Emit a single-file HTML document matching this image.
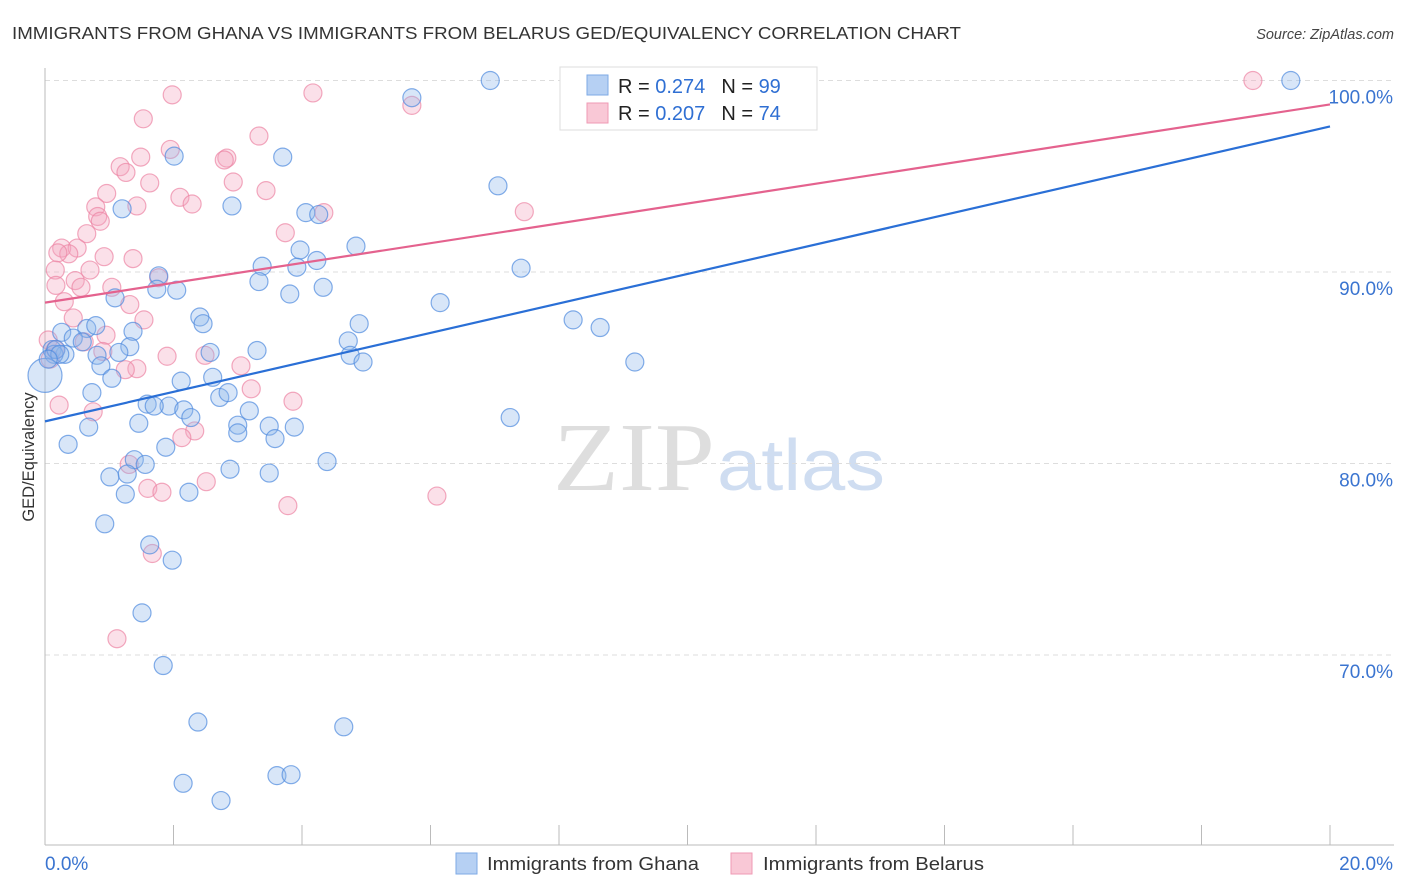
<!DOCTYPE html>
<html><head><meta charset="utf-8"><style>
body{margin:0;background:#fff;font-family:"Liberation Sans",sans-serif;}
svg{display:block}
</style></head><body>
<svg id="chart" width="1406" height="892" viewBox="0 0 1406 892">
<text x="12" y="39" font-size="17.5" fill="#333" textLength="949" lengthAdjust="spacingAndGlyphs">IMMIGRANTS FROM GHANA VS IMMIGRANTS FROM BELARUS GED/EQUIVALENCY CORRELATION CHART</text>
<text x="1394" y="39" font-size="14.5" fill="#444" font-style="italic" text-anchor="end">Source: ZipAtlas.com</text>
<g>
<text x="553" y="490" font-family="Liberation Serif,serif" font-size="98" fill="#d4d4d4" opacity="0.75" textLength="162" lengthAdjust="spacingAndGlyphs">ZIP</text>
<text x="717" y="490" font-size="72" fill="#bcd0ec" opacity="0.7" textLength="168" lengthAdjust="spacingAndGlyphs">atlas</text>
</g>
<g id="grid"></g>
<g id="axes"></g>
<g id="marks"></g>
<text transform="translate(34,457) rotate(-90)" font-size="16.5" fill="#333" text-anchor="middle">GED/Equivalency</text>
<g>
<rect x="560" y="67" width="257" height="63" fill="#fff" stroke="#ddd"/>
<rect x="587" y="75" width="21" height="20" fill="#b6d0f3" stroke="#7eaae6"/>
<rect x="587" y="103" width="21" height="20" fill="#f9c8d6" stroke="#ef9ab4"/>
<text x="618" y="93" font-size="20" fill="#222">R = <tspan fill="#2f6fd3">0.274</tspan><tspan dx="16">N = </tspan><tspan fill="#2f6fd3">99</tspan></text>
<text x="618" y="120" font-size="20" fill="#222">R = <tspan fill="#2f6fd3">0.207</tspan><tspan dx="16">N = </tspan><tspan fill="#2f6fd3">74</tspan></text>
</g>
<g>
<rect x="456" y="853" width="21" height="21" fill="#b6d0f3" stroke="#7eaae6"/>
<text x="487" y="870" font-size="18" fill="#333" textLength="212" lengthAdjust="spacingAndGlyphs">Immigrants from Ghana</text>
<rect x="731" y="853" width="21" height="21" fill="#f9c8d6" stroke="#ef9ab4"/>
<text x="763" y="870" font-size="18" fill="#333" textLength="221" lengthAdjust="spacingAndGlyphs">Immigrants from Belarus</text>
</g>
</svg>
<script>
const ghanaX=[6.93,19.39,5.71,2.01,3.70,7.05,1.20,2.91,4.06,4.26,4.84,3.97,3.38,4.23,3.92,7.41,1.77,3.33,1.74,2.05,3.81,4.33,1.09,6.15,2.41,2.46,8.22,8.64,4.89,1.37,0.65,0.26,0.79,4.72,0.44,0.58,0.11,1.32,2.57,3.30,0.31,1.15,0.81,4.75,4.95,9.18,0.87,0.14,2.61,1.04,2.12,2.72,0.73,2.85,1.59,1.93,2.16,1.70,3.18,2.27,1.46,0.68,3.00,3.49,3.00,3.88,3.58,7.24,1.88,0.36,4.39,1.39,1.56,2.88,1.01,1.28,3.49,1.25,2.24,0.93,1.63,1.98,1.51,1.84,2.38,4.65,2.15,3.61,3.83,2.74,0.0,0.17,0.23,0.05];
const ghanaY=[100,100,99.1,96.05,96.0,94.5,93.3,93.45,93.1,93.0,91.35,91.15,90.3,90.6,90.25,90.2,89.8,89.5,89.1,89.05,88.85,89.2,88.65,88.4,87.65,87.3,87.5,87.1,87.3,86.9,87.05,86.85,87.2,86.4,86.55,86.35,85.95,86.1,85.8,85.9,85.7,85.8,85.65,85.65,85.3,85.3,85.1,85.7,84.5,84.45,84.3,83.45,83.7,83.7,83.1,83.0,82.8,83.0,82.75,82.4,82.1,81.9,82.0,81.95,81.6,81.9,81.3,82.4,80.85,81.0,80.1,80.2,79.95,79.7,79.3,79.45,79.5,78.4,78.5,76.85,75.75,74.95,72.2,69.45,66.5,66.25,63.3,63.7,63.75,62.4,84.6,85.95,85.7,85.45];
const belarusX=[18.8,1.98,4.17,1.53,5.71,3.33,1.95,1.49,2.83,2.79,1.17,1.26,1.63,2.93,0.96,3.44,2.10,2.29,1.43,0.79,0.82,0.86,4.34,7.46,0.65,3.74,0.26,0.50,0.37,0.20,0.92,1.37,0.16,0.70,1.77,0.47,0.17,0.56,1.04,0.30,1.32,0.44,1.54,0.95,0.61,0.05,0.90,0.16,1.90,2.49,1.43,3.05,1.25,3.21,0.22,0.75,3.86,2.33,2.13,1.31,2.51,1.60,1.82,3.78,6.10,1.67,1.12,0.08];
const belarusY=[100,99.25,99.35,98.0,98.7,97.1,96.4,96.0,95.95,95.85,95.5,95.2,94.65,94.7,94.1,94.25,93.9,93.55,93.45,93.4,92.9,92.65,93.1,93.15,92.0,92.05,91.25,91.25,90.95,91.0,90.8,90.7,90.1,90.1,89.7,89.55,89.3,89.2,89.2,88.45,88.3,87.6,87.5,86.7,86.35,86.45,85.85,85.95,85.6,85.65,84.95,85.1,84.9,83.9,83.05,82.7,83.25,81.7,81.35,79.95,79.05,78.7,78.5,77.8,78.3,75.3,70.85,85.45];
const ghanaTrend=[82.2,97.6];
const belarusTrend=[88.4,98.75];
const yTicks=[100,90,80,70];
const yTickLabels=["100.0%","90.0%","80.0%","70.0%"];
const xTicks=[0,2,4,6,8,10,12,14,16,18,20];

const NS="http://www.w3.org/2000/svg";
const X0=45,X1=1330,YTOP=80.5,PXPER=19.15;
function sx(v){return X0+(v/20)*(X1-X0);}
function sy(v){return YTOP+(100-v)*PXPER;}
function mk(tag,attrs,parent){const e=document.createElementNS(NS,tag);for(const k in attrs)e.setAttribute(k,attrs[k]);parent.appendChild(e);return e;}
const grid=document.getElementById('grid'),axes=document.getElementById('axes'),marks=document.getElementById('marks');
yTicks.forEach((t,i)=>{
 const l=mk('line',{x1:X0,x2:1394,y1:sy(t),y2:sy(t),stroke:'#ddd','stroke-dasharray':'5,4'},grid);
 
 
 const tx=mk('text',{x:1393,y:sy(t)+23,'font-size':19,fill:'#3a74d0','text-anchor':'end'},axes);
 tx.textContent=yTickLabels[i];
 
 
});
const ax=mk('line',{x1:X0,x2:1394,y1:845,y2:845,stroke:'#bbb'},axes);


const ay=mk('line',{x1:X0,x2:X0,y1:68,y2:845,stroke:'#bbb'},axes);


xTicks.forEach(t=>{
 const l=mk('line',{x1:sx(t),x2:sx(t),y1:825,y2:845,stroke:'#bbb'},axes);
 
 
});
const xl0=mk('text',{x:45,y:870,'font-size':19,fill:'#3a74d0'},axes);xl0.textContent='0.0%';


const xl1=mk('text',{x:1393,y:870,'font-size':19,fill:'#3a74d0','text-anchor':'end'},axes);xl1.textContent='20.0%';



function drawPoints(xs,ys,fill,stroke,name){
 xs.forEach((x,i)=>{
  const big=(x===0);
  const c=mk('circle',{cx:sx(x),cy:sy(ys[i]),r:big?17:9,fill:fill,'fill-opacity':0.35,stroke:stroke,'stroke-opacity':0.7,'stroke-width':1.2},marks);
  
  
 });
}
drawPoints(belarusX,belarusY,'#f4a6bf','#ec84a4','point-belarus');
drawPoints(ghanaX,ghanaY,'#8fb8ec','#4f8ade','point-ghana');
const tb=mk('line',{x1:sx(0),y1:sy(ghanaTrend[0]),x2:sx(20),y2:sy(ghanaTrend[1]),stroke:'#2a6fd6','stroke-width':2.2},marks);


const tp=mk('line',{x1:sx(0),y1:sy(belarusTrend[0]),x2:sx(20),y2:sy(belarusTrend[1]),stroke:'#e4628e','stroke-width':2.2},marks);


</script>
</body></html>
